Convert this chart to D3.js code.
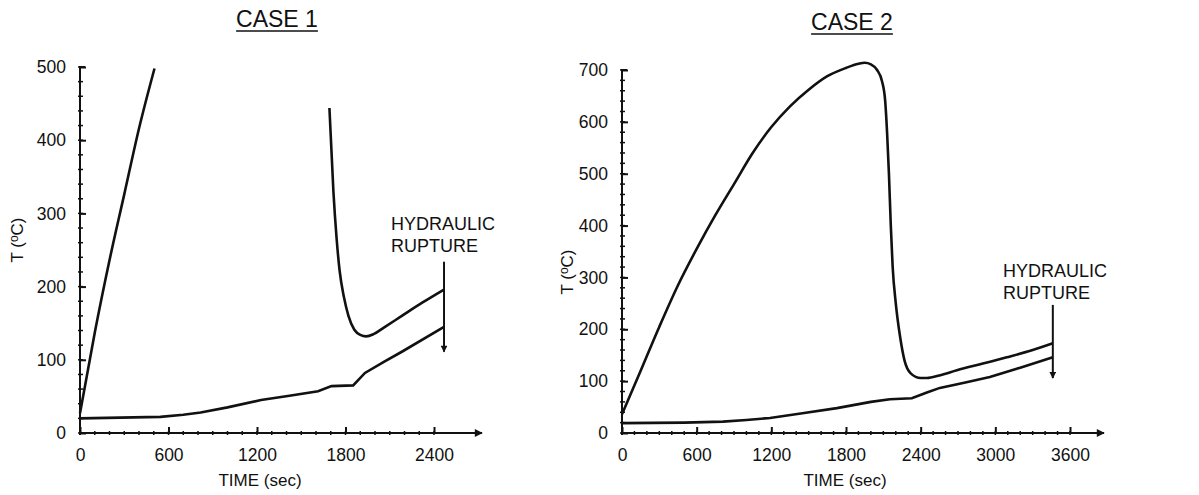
<!DOCTYPE html>
<html>
  <head>
    <meta charset="utf-8">
    <title>Case 1 / Case 2</title>
    <script src="https://d3js.org/d3.v7.min.js"></script>
    <style>
      body { margin: 0; background: #fff; }
      text { font-family: "Liberation Sans", Arial, sans-serif; fill: #111; }
      .tick text { font-size: 17.5px; }
      .domain { stroke: #111; stroke-width: 2px; }
      .tick line { stroke: #111; stroke-width: 2px; }
      .curve { fill: none; stroke: #111; stroke-width: 2.6px; }
    </style>
  </head>
  <body>
    <div id="graph"></div>
  </body>

  <script>
    // Case 1 data (time in sec, temperature in C)
    const case1_hot_a = [[0, 27], [100, 137], [200, 236], [300, 326], [400, 416], [505, 498]];
    const case1_hot_b = [[1691, 444], [1718, 330], [1740, 265], [1760, 222], [1790, 185], [1820, 160], [1860, 141], [1900, 134], [1940, 132], [1990, 135], [2060, 144], [2182, 160], [2320, 178], [2468, 196]];
    const case1_cool = [[0, 20], [545, 22], [700, 25], [818, 28], [1000, 35], [1227, 45], [1420, 51], [1614, 57], [1705, 64], [1852, 65], [1932, 82], [2060, 97], [2182, 111], [2468, 145]];
    const case1_rupture = [2468, 234, 111];
    const case1_xticks = [0, 600, 1200, 1800, 2400];
    const case1_yticks = [0, 100, 200, 300, 400, 500];

    // Case 2 data
    const case2_hot = [[0, 36], [150, 120], [300, 205], [450, 285], [600, 355], [750, 420], [900, 480], [1050, 540], [1200, 590], [1350, 630], [1500, 662], [1650, 688], [1800, 704], [1900, 712], [1950, 714], [2000, 711], [2050, 700], [2090, 678], [2115, 640], [2130, 580], [2145, 500], [2160, 400], [2175, 320], [2200, 250], [2235, 185], [2270, 140], [2320, 115], [2400, 106], [2450, 106], [2550, 111], [2691, 121], [2900, 134], [3092, 146], [3300, 160], [3462, 173]];
    const case2_cool = [[0, 19], [500, 20], [811, 22], [1000, 25], [1189, 29], [1450, 38], [1727, 48], [2000, 60], [2153, 65], [2329, 67], [2450, 78], [2554, 87], [2750, 97], [2956, 108], [3200, 126], [3462, 146]];
    const case2_rupture = [3462, 247, 106];
    const case2_xticks = [0, 600, 1200, 1800, 2400, 3000, 3600];
    const case2_yticks = [0, 100, 200, 300, 400, 500, 600, 700];

    const width = 1199;
    const height = 495;

    let svg = d3.select("#graph").append("svg")
      .attr("width", width)
      .attr("height", height);

    let defs = svg.append("defs");
    defs.append("marker")
      .attr("id", "axis_arrow")
      .attr("viewBox", "0 0 10 10")
      .attr("refX", 9).attr("refY", 5)
      .attr("markerWidth", 8).attr("markerHeight", 4)
      .attr("markerUnits", "strokeWidth")
      .attr("orient", "auto")
      .append("path").attr("d", "M0,0L10,5L0,10z").attr("fill", "#111");
    defs.append("marker")
      .attr("id", "rup_arrow")
      .attr("viewBox", "0 0 10 10")
      .attr("refX", 9).attr("refY", 5)
      .attr("markerWidth", 8).attr("markerHeight", 3.4)
      .attr("markerUnits", "strokeWidth")
      .attr("orient", "auto")
      .append("path").attr("d", "M0,0L10,5L0,10z").attr("fill", "#111");

    function draw_panel(opt) {
      const x = d3.scaleLinear().domain([0, opt.xmax]).range(opt.xrange);
      const y = d3.scaleLinear().domain([0, opt.ymax]).range([433, opt.ytop]);
      let g = svg.append("g");

      // Minor tick dots along the axes
      g.append("g").selectAll("line")
        .data(d3.range(0, opt.ymax + 1, 20))
        .join("line")
        .attr("x1", x(0) - 2).attr("x2", x(0) + 3)
        .attr("y1", d => y(d)).attr("y2", d => y(d))
        .attr("stroke", "#111").attr("stroke-width", 1.5);
      g.append("g").selectAll("line")
        .data(d3.range(0, opt.xmax + 1, 100))
        .join("line")
        .attr("x1", d => x(d)).attr("x2", d => x(d))
        .attr("y1", y(0) - 2).attr("y2", y(0) + 2)
        .attr("stroke", "#111").attr("stroke-width", 1.5);

      // Y axis with inward ticks
      g.append("g")
        .attr("transform", `translate(${x(0)},0)`)
        .call(d3.axisLeft(y).tickValues(opt.yticks).tickFormat(d3.format("d"))
          .tickSizeInner(-6).tickSizeOuter(0).tickPadding(14))
        .call(a => a.select(".domain").attr("d", `M0,${y(0) + 2}V${y(opt.ymax)}h5`));

      // X axis with arrow
      g.append("g")
        .attr("transform", `translate(0,${y(0)})`)
        .call(d3.axisBottom(x).tickValues(opt.xticks).tickFormat(d3.format("d"))
          .tickSizeInner(-6).tickSizeOuter(0).tickPadding(16))
        .call(a => a.select(".domain").remove());
      g.append("line")
        .attr("x1", x(0)).attr("x2", opt.arrow_end)
        .attr("y1", y(0)).attr("y2", y(0))
        .attr("stroke", "#111").attr("stroke-width", 2)
        .attr("marker-end", "url(#axis_arrow)");

      // Curves
      const smooth = d3.line().x(d => x(d[0])).y(d => y(d[1])).curve(d3.curveMonotoneX);
      const straight = d3.line().x(d => x(d[0])).y(d => y(d[1]));
      opt.hot.forEach(s => {
        g.append("path").attr("class", "curve").attr("d", smooth(s));
      });
      g.append("path").attr("class", "curve").attr("d", straight(opt.cool));

      // Rupture arrow
      g.append("line")
        .attr("x1", x(opt.rupture[0])).attr("x2", x(opt.rupture[0]))
        .attr("y1", y(opt.rupture[1])).attr("y2", y(opt.rupture[2]))
        .attr("stroke", "#111").attr("stroke-width", 2)
        .attr("marker-end", "url(#rup_arrow)");
      let lab = g.append("text")
        .attr("x", opt.label_x).attr("y", opt.label_y)
        .style("font-size", "18px");
      lab.append("tspan").attr("x", opt.label_x).text("HYDRAULIC");
      lab.append("tspan").attr("x", opt.label_x).attr("dy", 21.5).text("RUPTURE");

      // Title, underlined
      let title = g.append("text")
        .attr("x", opt.title_x).attr("y", opt.title_y)
        .style("text-anchor", "middle")
        .style("font-size", "23px")
        .text(opt.title);
      const tw = title.node().getComputedTextLength();
      g.append("line")
        .attr("x1", opt.title_x - tw / 2).attr("x2", opt.title_x + tw / 2)
        .attr("y1", opt.title_y + 4).attr("y2", opt.title_y + 4)
        .attr("stroke", "#111").attr("stroke-width", 1.6);

      // Axis titles
      g.append("text")
        .attr("x", (x(0) + x(opt.xmax)) / 2 + opt.xlabel_shift).attr("y", 486)
        .style("text-anchor", "middle")
        .style("font-size", "17px")
        .text("TIME (sec)");
      let yl = g.append("text")
        .attr("transform", `translate(${opt.ylabel_x},${opt.ylabel_y}) rotate(-90)`)
        .style("text-anchor", "middle")
        .style("font-size", "17px");
      yl.append("tspan").text("T (");
      yl.append("tspan").attr("dy", -5).style("font-size", "12px").text("o");
      yl.append("tspan").attr("dy", 5).text("C)");
    }

    draw_panel({
      title: "CASE 1", title_x: 277, title_y: 27,
      xmax: 2400, xrange: [80, 434], ymax: 500, ytop: 67,
      xticks: case1_xticks, yticks: case1_yticks, arrow_end: 482,
      hot: [case1_hot_a, case1_hot_b], cool: case1_cool,
      rupture: case1_rupture, label_x: 391, label_y: 230,
      xlabel_shift: 3, ylabel_x: 23, ylabel_y: 240
    });

    draw_panel({
      title: "CASE 2", title_x: 852, title_y: 30,
      xmax: 3600, xrange: [622, 1070], ymax: 700, ytop: 70,
      xticks: case2_xticks, yticks: case2_yticks, arrow_end: 1104,
      hot: [case2_hot], cool: case2_cool,
      rupture: case2_rupture, label_x: 1003, label_y: 277,
      xlabel_shift: -1, ylabel_x: 573, ylabel_y: 272
    });
  </script>
</html>
